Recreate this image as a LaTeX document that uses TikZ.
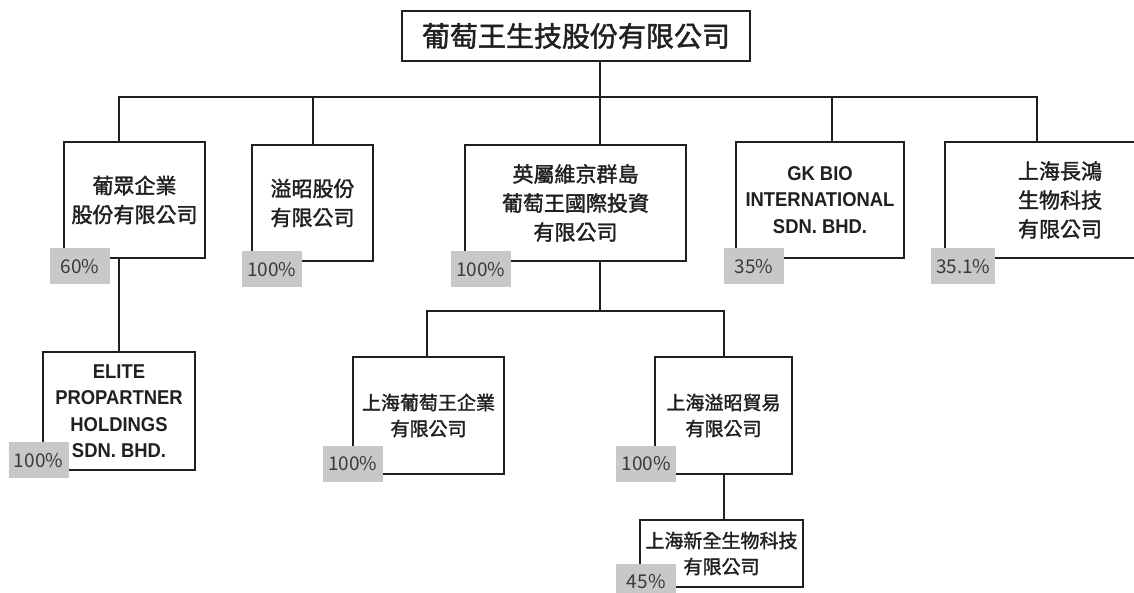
\documentclass[tikz,border=0pt]{standalone}
\usepackage{fontspec}
\newfontfamily\cjk{Noto Sans CJK TC}[FakeBold=1.6]
\newfontfamily\cjkpct{Noto Sans CJK TC}
\newfontfamily\latb{Liberation Sans}[FakeStretch=0.92]
\usetikzlibrary{calc}
\definecolor{ink}{HTML}{231F20}
\definecolor{pgray}{HTML}{C7C8CA}
\definecolor{ptext}{HTML}{3A3A3A}
\begin{document}
\begin{tikzpicture}[x=1pt,y=-1pt,
  box/.style={draw=ink, line width=2.2pt, inner sep=0pt, align=center, text=ink},
  cjkA/.style={font=\cjk\fontsize{21}{29}\selectfont},
  cjkB/.style={font=\cjk\fontsize{19}{26}\selectfont},
  entext/.style={font=\latb\bfseries\fontsize{20}{26.5}\selectfont},
  pct/.style={fill=pgray, inner sep=0pt, anchor=north west, minimum width=60pt, minimum height=36pt, text=ptext, font=\cjkpct\fontsize{19}{19}\selectfont},
  link/.style={draw=ink, line width=2.2pt}]
\useasboundingbox (0,0) rectangle (1134,592);
\clip (0,0) rectangle (1134,592);
\fill[white] (0,0) rectangle (1134,592);

% boxes
\node[box, minimum width=348pt, minimum height=50pt, font=\cjk\fontsize{28}{30}\selectfont] (top) at (576,36) {葡萄王生技股份有限公司};
\node[box, cjkA, minimum width=141pt, minimum height=116pt] (b1) at (134.5,200) {葡眾企業\\股份有限公司};
\node[box, cjkA, minimum width=121pt, minimum height=116pt] (b2) at (312.5,203) {溢昭股份\\有限公司};
\node[box, cjkA, minimum width=221pt, minimum height=116pt] (b3) at (575.5,203) {英屬維京群島\\葡萄王國際投資\\有限公司};
\node[box, entext, minimum width=168pt, minimum height=116pt] (b4) at (820,200) {GK BIO\\INTERNATIONAL\\SDN. BHD.};
\node[box, cjkA, minimum width=230pt, minimum height=116pt] (b5) at (1060,200) {上海長鴻\\生物科技\\有限公司};
\node[box, entext, minimum width=152pt, minimum height=118pt] (e1) at (119,411) {ELITE\\PROPARTNER\\HOLDINGS\\SDN. BHD.};
\node[box, cjkB, minimum width=151pt, minimum height=117pt] (s1) at (428.5,415.5) {上海葡萄王企業\\有限公司};
\node[box, cjkB, minimum width=137pt, minimum height=117pt] (s2) at (723.5,415.5) {上海溢昭貿易\\有限公司};
\node[box, cjkB, minimum width=163pt, minimum height=67pt] (s3) at (721.5,553.5) {上海新全生物科技\\有限公司};

% connectors
\coordinate (jt) at (600,97);
\coordinate (j1) at (119,97);
\coordinate (j2) at (312.7,97);
\coordinate (j4) at (832,97);
\coordinate (j5) at (1037,97);
\coordinate (k)  at (600,311);
\coordinate (k1) at (427,311);
\coordinate (k2) at (724,311);
\draw[link] (top.south -| jt) -- (jt) -- (jt |- b3.north);
\draw[link] (j1 |- b1.north) -- (j1) -- (j5) -- (j5 |- b5.north);
\draw[link] (j2) -- (j2 |- b2.north);
\draw[link] (j4) -- (j4 |- b4.north);
\draw[link] (b1.south -| j1) -- (j1 |- e1.north);
\draw[link] (b3.south -| k) -- (k);
\draw[link] (k1 |- s1.north) -- (k1) -- (k2) -- (k2 |- s2.north);
\draw[link] (s2.south -| k2) -- (k2 |- s3.north);

% percentage labels
\node[pct] (l1) at (49.7,248) {60\%};
\node[pct] (l2) at (241.7,251) {100\%};
\node[pct] (l3) at (450.7,251) {100\%};
\node[pct] (l4) at (723.7,248) {35\%};
\node[pct, minimum width=64pt] (l5) at (931,248) {35.1\%};
\node[pct] (le) at (8.3,442) {100\%};
\node[pct] (ls1) at (322.7,445.7) {100\%};
\node[pct] (ls2) at (616,445.7) {100\%};
\node[pct] (ls3) at (616,563.3) {45\%};
\end{tikzpicture}
\end{document}
